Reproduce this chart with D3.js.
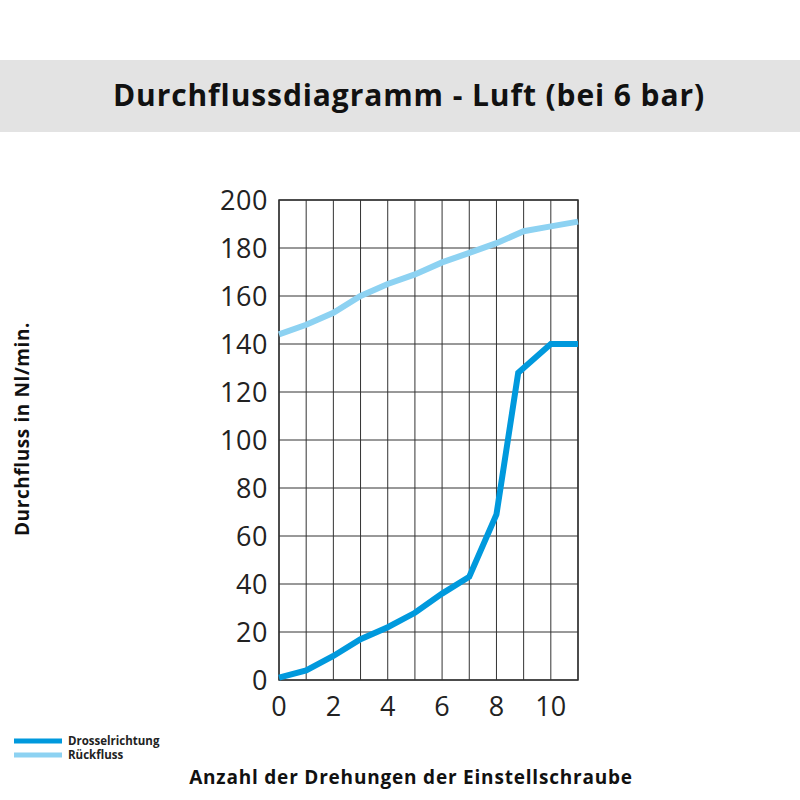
<!DOCTYPE html>
<html><head><meta charset="utf-8">
<script src="https://cdn.jsdelivr.net/npm/d3@7"></script>
<style>body{margin:0;background:#fff}text{font-family:"Open Sans","Noto Sans",sans-serif}</style>
</head><body><svg id="c" width="800" height="800"></svg>
<script>
const xDross = [0,1,2,3,4,5,6,7,8,8.8,10,11];
const yDross = [1,4,10,17,22,28,36,43,69,128,140,140];
const xRueck = [0,1,2,3,4,5,6,7,8,9,10,11];
const yRueck = [144,148,153,160,165,169,174,178,182,187,189,191];
const xTicks = [0,2,4,6,8,10];
const yTicks = [0,20,40,60,80,100,120,140,160,180,200];
const seriesNames = ["Drosselrichtung","Rückfluss"];
const colors = ["#0099dd","#8dd2f2"];

const svg = d3.select("#c");
svg.append("rect").attr("x",0).attr("y",60).attr("width",800).attr("height",72).attr("fill","#e3e3e3");
svg.append("text").attr("x",409).attr("y",106).attr("text-anchor","middle").attr("font-size",30).attr("font-weight",700).attr("letter-spacing",0.9).attr("fill","#111").text("Durchflussdiagramm - Luft (bei 6 bar)");

const x = d3.scaleLinear().domain([0,11]).range([279,578]);
const y = d3.scaleLinear().domain([0,200]).range([680,200]);
const g = svg.append("g");
g.selectAll(".vx").data(d3.range(0,12)).join("line").attr("x1",d=>x(d)).attr("x2",d=>x(d)).attr("y1",y(0)).attr("y2",y(200)).attr("stroke","#333").attr("stroke-width",1);
g.selectAll(".hy").data(yTicks).join("line").attr("x1",x(0)).attr("x2",x(11)).attr("y1",d=>y(d)).attr("y2",d=>y(d)).attr("stroke","#333").attr("stroke-width",1);
g.append("rect").attr("x",x(0)).attr("y",y(200)).attr("width",x(11)-x(0)).attr("height",y(0)-y(200)).attr("fill","none").attr("stroke","#333").attr("stroke-width",1.5);

g.selectAll(".yl").data(yTicks).join("text").attr("x",268).attr("y",d=>y(d)+10).attr("text-anchor","end").attr("font-size",27).attr("letter-spacing",0.6).attr("fill","#222").text(d=>d);
g.selectAll(".xl").data(xTicks).join("text").attr("x",d=>x(d)).attr("y",716).attr("text-anchor","middle").attr("font-size",27).attr("fill","#222").text(d=>d);

const line = d3.line().x(d=>x(d[0])).y(d=>y(d[1]));
g.append("path").attr("d",line(xRueck.map((v,i)=>[v,yRueck[i]]))).attr("fill","none").attr("stroke",colors[1]).attr("stroke-width",6);
g.append("path").attr("d",line(xDross.map((v,i)=>[v,yDross[i]]))).attr("fill","none").attr("stroke",colors[0]).attr("stroke-width",6);

svg.append("text").attr("transform","translate(29,429) rotate(-90)").attr("text-anchor","middle").attr("font-size",19).attr("font-weight",700).attr("letter-spacing",0.6).attr("fill","#111").text("Durchfluss in Nl/min.");
svg.append("text").attr("x",411).attr("y",784).attr("text-anchor","middle").attr("font-size",19).attr("font-weight",700).attr("letter-spacing",0.8).attr("fill","#111").text("Anzahl der Drehungen der Einstellschraube");

seriesNames.forEach((n,i)=>{
  const yy = 741 + i*14;
  svg.append("line").attr("x1",14).attr("x2",62).attr("y1",yy).attr("y2",yy).attr("stroke",colors[i]).attr("stroke-width",5);
  svg.append("text").attr("x",68).attr("y",yy+4).attr("font-size",11.5).attr("font-weight",700).attr("fill","#222").text(n);
});
</script></body></html>
